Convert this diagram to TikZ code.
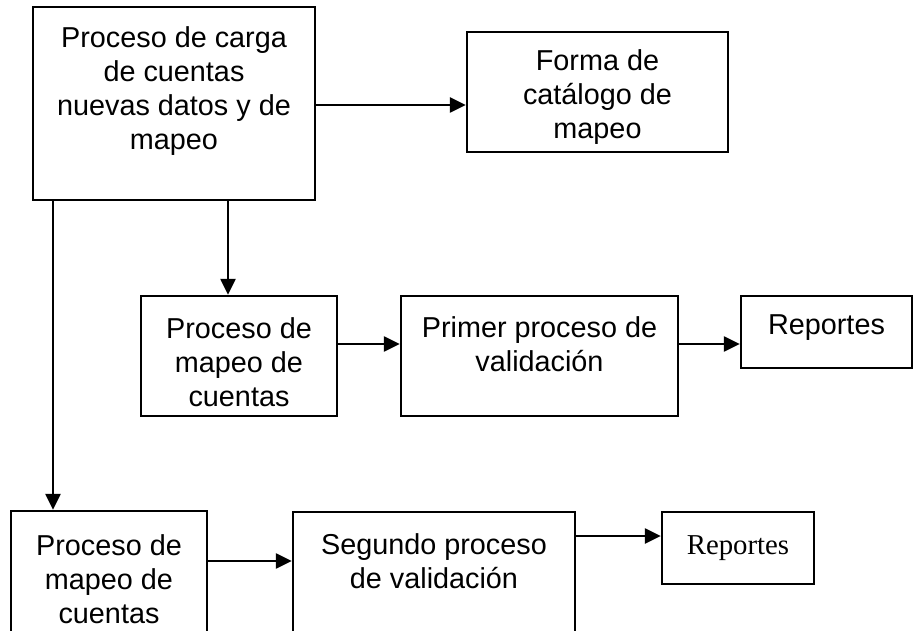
\documentclass[tikz,border=0pt]{standalone}
\usepackage{fontspec}
\setmainfont{Liberation Sans}
\newfontfamily\serifrep{Liberation Serif}
\usetikzlibrary{arrows.meta}
\begin{document}
\begin{tikzpicture}[x=1pt,y=-1pt,
  boxst/.style={draw,line width=2.3pt,inner sep=0pt},
  txt/.style={align=center,inner sep=0pt,font=\fontsize{28.8}{34}\selectfont},
  arr/.style={line width=2.3pt,-{Triangle[length=16pt,width=15pt]}}]
\clip (0,0) rectangle (914,631);
% boxes
\node[boxst,minimum width=282pt,minimum height=193pt] (b1) at (174,103.5) {};
\node[boxst,minimum width=261pt,minimum height=120pt] (forma) at (597.5,92) {};
\node[boxst,minimum width=196pt,minimum height=120pt] (m1) at (239,356) {};
\node[boxst,minimum width=277pt,minimum height=120pt] (p1) at (539.5,356) {};
\node[boxst,minimum width=171pt,minimum height=72pt] (r1) at (826.5,332) {};
\node[boxst,minimum width=196pt,minimum height=139pt] (m2) at (109,580.5) {};
\node[boxst,minimum width=282pt,minimum height=138pt] (s2) at (434,581) {};
\node[boxst,minimum width=152pt,minimum height=72pt] (r2) at (738,548) {};
% texts
\node[txt] (tb1) at (174,91) {Proceso de carga\\de cuentas\\nuevas datos y de\\mapeo};
\node[txt] (tforma) at (597.5,97) {Forma de\\catálogo de\\mapeo};
\node[txt] (tm1) at (239,362) {Proceso de\\mapeo de\\cuentas};
\node[txt] (tp1) at (539.5,344.5) {Primer proceso de\\validación};
\node[txt] (tr1) at (826.5,328) {Reportes};
\node[txt] (tm2) at (109,579) {Proceso de\\mapeo de\\cuentas};
\node[txt] (ts2) at (434,561.5) {Segundo proceso\\de validación};
\node[txt,font=\serifrep\fontsize{28.8}{34}\selectfont] (tr2) at (738,548) {Reportes};
% connector anchors
\coordinate (ya) at (0,105);
\coordinate (xb) at (228,0);
\coordinate (xc) at (53,0);
\coordinate (yd) at (0,344);
\coordinate (ye) at (0,561);
\coordinate (yf) at (0,536);
% connectors
\draw[arr] (b1.east |- ya) -- (forma.west |- ya);
\draw[arr] (b1.south -| xb) -- (m1.north -| xb);
\draw[arr] (b1.south -| xc) -- (m2.north -| xc);
\draw[arr] (m1.east |- yd) -- (p1.west |- yd);
\draw[arr] (p1.east |- yd) -- (r1.west |- yd);
\draw[arr] (m2.east |- ye) -- (s2.west |- ye);
\draw[arr] (s2.east |- yf) -- (r2.west |- yf);
\end{tikzpicture}
\end{document}
